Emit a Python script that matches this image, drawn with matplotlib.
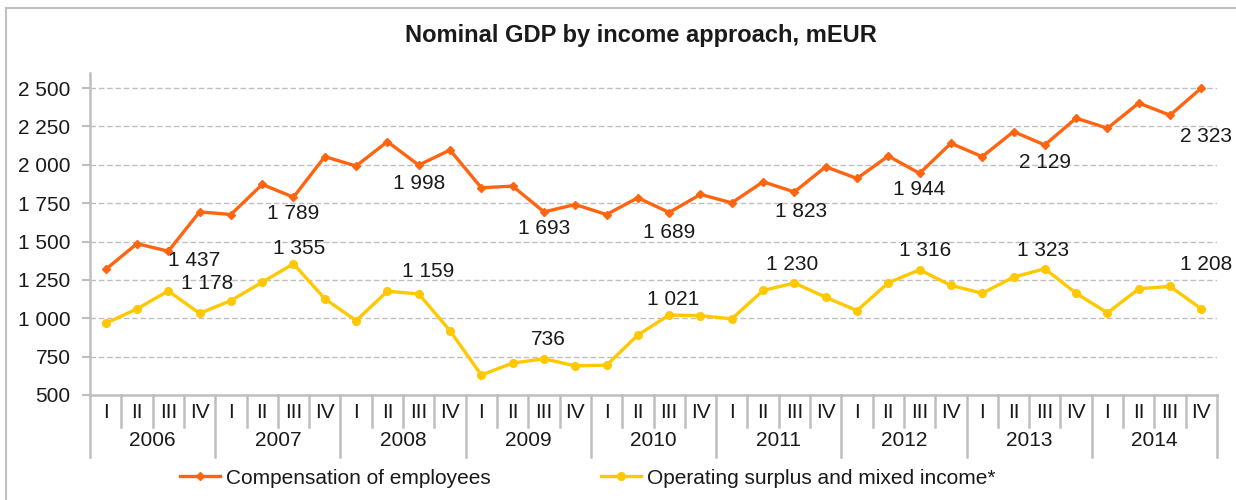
import matplotlib
matplotlib.use('Agg')
import matplotlib.pyplot as plt
from matplotlib.lines import Line2D
from matplotlib.patches import Rectangle

plt.rcParams['font.family'] = ['Liberation Sans', 'DejaVu Sans']

# data (mEUR), 2006 Q1 .. 2014 Q4
years = ['2006', '2007', '2008', '2009', '2010', '2011', '2012', '2013', '2014']
quarters = ['I', 'II', 'III', 'IV']
compensation = [1318, 1486, 1437, 1693,
                1676, 1872, 1789, 2053,
                1992, 2151, 1998, 2096,
                1850, 1861, 1693, 1741,
                1676, 1785, 1689, 1807,
                1752, 1889, 1823, 1987,
                1911, 2057, 1944, 2140,
                2053, 2216, 2129, 2304,
                2238, 2402, 2323, 2500]
surplus = [967, 1061, 1178, 1032,
           1115, 1235, 1355, 1127,
           985, 1176, 1159, 919,
           630, 708, 736, 690,
           694, 891, 1021, 1017,
           996, 1181, 1230, 1137,
           1050, 1231, 1316, 1214,
           1163, 1268, 1323, 1163,
           1035, 1192, 1208, 1061]
series_names = ['Compensation of employees', 'Operating surplus and mixed income*']
yticks = [500, 750, 1000, 1250, 1500, 1750, 2000, 2250, 2500]

# label offsets in pixels for the Q3 values (orange, yellow)
off_comp = [(26, -9), (0, -16), (0, -18), (0, -17), (0, -20), (7, -20), (0, -16), (0, -18), (36, -21)]
off_surp = [(39, 7), (6, 15), (9, 22), (4, 19), (4, 16), (-2, 18), (6, 19), (-2, 18), (36, 22)]

ORANGE = '#FF6410'
YELLOW = '#FFC800'
GRID = '#BFBFBF'
TXT = '#1a1a1a'

W, H = 1236, 500
fig = plt.figure(figsize=(W / 100, H / 100), dpi=100)
fig.patch.set_facecolor('white')
fig.add_artist(Rectangle((6 / W, -0.01), 1.0, 1 - 8 / H + 0.01, transform=fig.transFigure,
                         fill=False, edgecolor='#BFBFBF', lw=1.5))

left, right, top, bottom = 90, 1217, 73, 395
ax = fig.add_axes([left / W, 1 - bottom / H, (right - left) / W, (bottom - top) / H])
ax_h = bottom - top

n = len(compensation)
x = list(range(n))
l1, = ax.plot(x, compensation, color=ORANGE, lw=2.4, marker='D', ms=4.5, zorder=3)
l2, = ax.plot(x, surplus, color=YELLOW, lw=2.4, marker='o', ms=5.5, zorder=3)

ax.set_xlim(-0.5, n - 0.5)
ax.set_ylim(500, 2598)
ax.set_yticks(yticks)
ax.set_yticklabels([f'{v:,}'.replace(',', ' ') for v in yticks], fontsize=15, color=TXT)
ax.tick_params(axis='y', length=6, width=1.5, color=GRID, pad=8)
ax.set_xticks([])
for y in yticks[1:]:
    ax.axhline(y, color=GRID, lw=1, ls=(0, (4, 2)), zorder=1)

for s in ['top', 'right']:
    ax.spines[s].set_visible(False)
for s in ['left', 'bottom']:
    ax.spines[s].set_color(GRID)
    ax.spines[s].set_linewidth(1.8)

# two-level category axis
tr = ax.get_xaxis_transform()
q_end = -(427 - bottom) / ax_h
y_end = -(457 - bottom) / ax_h
for i in range(n + 1):
    yb = y_end if i % 4 == 0 else q_end
    ax.add_line(Line2D([i - 0.5, i - 0.5], [0, yb], transform=tr, color=GRID, lw=1.8, clip_on=False))
for i in range(n):
    ax.text(i, -(412 - bottom) / ax_h, quarters[i % 4], transform=tr, ha='center', va='center',
            fontsize=15, color=TXT)
for k, yr in enumerate(years):
    ax.text(4 * k + 1.5, -(441 - bottom) / ax_h, yr, transform=tr, ha='center', va='center',
            fontsize=15, color=TXT)

# data labels on Q3 of each year
for k in range(len(years)):
    i = 4 * k + 2
    for vals, off in ((compensation, off_comp[k]), (surplus, off_surp[k])):
        ax.annotate(f'{vals[i]:,}'.replace(',', ' '), xy=(i, vals[i]), xytext=off,
                    textcoords='offset pixels', ha='center', va='center', fontsize=15,
                    color=TXT, annotation_clip=False, zorder=4)

fig.text(641 / W, 1 - 35 / H, 'Nominal GDP by income approach, mEUR', ha='center', va='center',
         fontsize=17, fontweight='bold', color=TXT)

fig.legend([l1, l2], series_names, loc='center left', bbox_to_anchor=(180 / W, 1 - 478 / H),
           ncol=2, frameon=False, fontsize=15, handlelength=1.9, handletextpad=0.3,
           columnspacing=5.3, borderpad=0, borderaxespad=0, labelcolor=TXT)

fig.savefig('out.png', dpi=100)
